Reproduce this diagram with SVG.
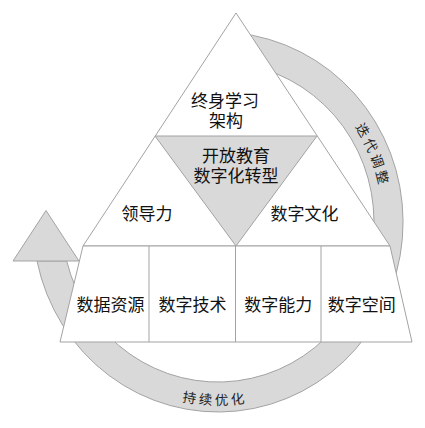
<svg xmlns="http://www.w3.org/2000/svg" width="425" height="428" viewBox="0 0 425 428">
<style>
.ln{stroke:#a3a3a3;stroke-width:1;stroke-linejoin:miter}
.w{fill:#ffffff}
.g{fill:#d9d9d9}
.t{font-family:"Noto Sans CJK SC","Noto Sans",sans-serif;font-size:17px;fill:#111;text-anchor:middle}
.c{font-family:"Noto Sans CJK SC","Noto Sans",sans-serif;font-size:13.5px;fill:#222;letter-spacing:3px}
</style>
<defs>
<path id="arcR" d="M300.5,74.8 A165,170 0 0,1 378.1,263.1"/>
<path id="arcB" d="M103.6,362.2 A178,183 0 0,0 327.6,366.2"/>
</defs>
<rect width="425" height="428" fill="#fff"/>
<g id="connectors">
<path class="ln g" d="M236,32.9 A185,190 0 1,1 37,261 L66.7,261 A156,160 0 1,0 236,63.1 Z"/>
<polygon class="ln g" points="46,210.5 13,261 79,261"/>
<text class="c"><textPath href="#arcR" startOffset="50%" text-anchor="middle">迭代调整</textPath></text>
<text class="c"><textPath href="#arcB" startOffset="50%" text-anchor="middle">持续优化</textPath></text>
</g>
<g id="pyramid">
<polygon class="ln w" points="236,13 390,246 83,246"/>
</g>
<g id="node-lifelong">
<text class="t" y="106.5"><tspan x="225">终身学习</tspan><tspan x="226" dy="20.5">架构</tspan></text>
</g>
<g id="node-core">
<polygon class="ln g" points="155,136 317,136 236,246"/>
<text class="t" y="162"><tspan x="236">开放教育</tspan><tspan x="236" dy="19.5">数字化转型</tspan></text>
</g>
<g id="node-leadership">
<text class="t" x="147" y="219.5">领导力</text>
</g>
<g id="node-culture">
<text class="t" x="304.5" y="219.5">数字文化</text>
</g>
<g id="base">
<polygon class="ln w" points="83,246 390,246 412,342 60,342"/>
<line class="ln" x1="149" y1="246" x2="149" y2="342"/>
<line class="ln" x1="235.5" y1="246" x2="235.5" y2="342"/>
<line class="ln" x1="321" y1="246" x2="321" y2="342"/>
</g>
<g id="node-data"><text class="t" x="110.5" y="310.5">数据资源</text></g>
<g id="node-tech"><text class="t" x="192.5" y="310.5">数字技术</text></g>
<g id="node-ability"><text class="t" x="278.3" y="310.5">数字能力</text></g>
<g id="node-space"><text class="t" x="361.7" y="310.5">数字空间</text></g>
</svg>
